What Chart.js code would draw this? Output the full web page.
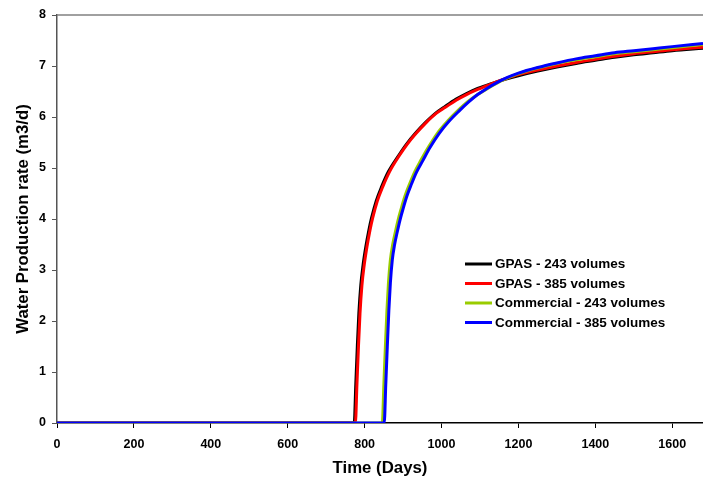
<!DOCTYPE html>
<html lang="en">
<head>
    <meta charset="UTF-8">
    <title>Water Production rate</title>
    <script src="https://cdn.jsdelivr.net/npm/chart.js"></script>
    <style>
        body { margin: 0; background: #fff; }
        #caixa { width: 703px; height: 481px; }
    </style>
</head>
<body>
    <div id="caixa"><canvas id="grafico_agua" width="703" height="481"></canvas></div>

<script>
    // series (days, m3/d)
    var nomes = ['GPAS - 243 volumes', 'GPAS - 385 volumes', 'Commercial - 243 volumes', 'Commercial - 385 volumes'];
    var cores = ['#000000', '#FF0000', '#99CC00', '#0000FF'];

    var diasGpas243 = [0, 773, 777, 781, 785, 790, 796, 803, 811, 818, 830, 844, 862, 888, 908, 932, 958, 984,
        1010, 1038, 1065, 1094, 1120, 1143, 1170, 1200, 1250, 1300, 1350, 1400, 1450, 1500, 1550, 1600, 1680];
    var vazaoGpas243 = [0, 0, 0.75, 1.5, 2.15, 2.7, 3.1, 3.45, 3.78, 4.02, 4.35, 4.63, 4.93, 5.24, 5.46, 5.68, 5.89, 6.07,
        6.21, 6.35, 6.46, 6.56, 6.63, 6.69, 6.75, 6.81, 6.90, 6.98, 7.05, 7.11, 7.17, 7.22, 7.26, 7.30, 7.35];

    var diasGpas385 = [0, 776, 780, 784, 788, 793, 799, 806, 814, 821, 833, 847, 865, 890, 910, 934, 960, 986,
        1010, 1038, 1065, 1094, 1120, 1143, 1170, 1200, 1250, 1300, 1350, 1400, 1450, 1500, 1550, 1600, 1680];
    var vazaoGpas385 = [0, 0, 0.75, 1.5, 2.15, 2.7, 3.1, 3.45, 3.78, 4.02, 4.35, 4.63, 4.93, 5.24, 5.46, 5.68, 5.89, 6.07,
        6.19, 6.33, 6.44, 6.54, 6.62, 6.69, 6.76, 6.83, 6.92, 7.00, 7.07, 7.13, 7.19, 7.24, 7.28, 7.32, 7.37];

    var diasComm243 = [0, 846, 850, 854, 858, 862, 867, 873, 880, 887, 895, 905, 915, 930, 947, 966, 990, 1017,
        1043, 1068, 1094, 1120, 1143, 1170, 1200, 1250, 1300, 1350, 1400, 1450, 1500, 1550, 1600, 1680];
    var vazaoComm243 = [0, 0, 0.75, 1.5, 2.2, 2.75, 3.2, 3.5, 3.75, 3.98, 4.2, 4.45, 4.65, 4.92, 5.16, 5.41, 5.69, 5.93,
        6.13, 6.30, 6.44, 6.56, 6.66, 6.76, 6.85, 6.96, 7.05, 7.12, 7.18, 7.24, 7.28, 7.32, 7.36, 7.42];

    var diasComm385 = [0, 851, 855, 859, 863, 867, 872, 878, 885, 892, 900, 910, 920, 935, 951, 970, 994, 1020,
        1046, 1070, 1094, 1120, 1143, 1170, 1200, 1250, 1300, 1350, 1400, 1450, 1500, 1550, 1600, 1680];
    var vazaoComm385 = [0, 0, 0.75, 1.5, 2.2, 2.75, 3.2, 3.5, 3.75, 3.98, 4.2, 4.45, 4.65, 4.92, 5.14, 5.40, 5.68, 5.92,
        6.12, 6.29, 6.44, 6.57, 6.67, 6.77, 6.86, 6.97, 7.06, 7.14, 7.20, 7.26, 7.30, 7.34, 7.38, 7.44];

    var fonte = 'Liberation Sans, Arial, sans-serif';

    function pontos(dias, vazao) {
        return dias.map(function (d, i) { return { x: d, y: vazao[i] }; });
    }

    var series = [
        pontos(diasGpas243, vazaoGpas243),
        pontos(diasGpas385, vazaoGpas385),
        pontos(diasComm243, vazaoComm243),
        pontos(diasComm385, vazaoComm385)
    ];

    // blue drawn on top, black at the bottom
    var datasets = series.map(function (dados, i) {
        return {
            label: nomes[i],
            data: dados,
            borderColor: cores[i],
            borderWidth: 3,
            pointRadius: 0,
            fill: false,
            cubicInterpolationMode: 'monotone',
            order: 3 - i
        };
    });

    // legend box inside the plot + grey top border
    var extras = {
        id: 'extras',
        afterDatasetsDraw: function (chart) {
            var ctx = chart.ctx;
            var area = chart.chartArea;
            ctx.save();
            ctx.strokeStyle = '#808080';
            ctx.lineWidth = 1.5;
            ctx.beginPath();
            ctx.moveTo(area.left, area.top);
            ctx.lineTo(area.right, area.top);
            ctx.stroke();

            ctx.font = 'bold 13.5px ' + fonte;
            ctx.textBaseline = 'middle';
            ctx.fillStyle = '#000';
            for (var i = 0; i < nomes.length; i++) {
                var y = 264 + i * 19.5;
                ctx.strokeStyle = cores[i];
                ctx.lineWidth = 3;
                ctx.beginPath();
                ctx.moveTo(465, y);
                ctx.lineTo(492, y);
                ctx.stroke();
                ctx.fillText(nomes[i], 495, y + 0.5);
            }
            ctx.restore();
        }
    };

    var ctx = document.getElementById('grafico_agua').getContext('2d');

    new Chart(ctx, {
        type: 'line',
        data: { datasets: datasets },
        options: {
            responsive: false,
            animation: false,
            devicePixelRatio: 1,
            layout: { padding: { top: 15, right: 0, left: 0, bottom: 0 } },
            plugins: {
                legend: { display: false },
                tooltip: { enabled: false }
            },
            scales: {
                x: {
                    type: 'linear',
                    min: 0,
                    max: 1680,
                    afterFit: function (scale) { scale.height = 58; },
                    ticks: {
                        stepSize: 200,
                        includeBounds: false,
                        color: '#000',
                        padding: 9,
                        maxRotation: 0,
                        callback: function (v) { return String(v); },
                        font: { family: fonte, size: 12.5, weight: 'bold' }
                    },
                    grid: { drawOnChartArea: false, color: '#000', tickLength: 5, lineWidth: 1 },
                    border: { color: '#000', width: 1.5 },
                    title: {
                        display: true,
                        text: 'Time (Days)',
                        color: '#000',
                        padding: { top: 0, bottom: 3 },
                        font: { family: fonte, size: 16.8, weight: 'bold' }
                    }
                },
                y: {
                    min: 0,
                    max: 8,
                    afterFit: function (scale) { scale.width = 57; },
                    ticks: {
                        stepSize: 1,
                        color: '#000',
                        padding: 6,
                        callback: function (v) { return String(v); },
                        font: { family: fonte, size: 12.5, weight: 'bold' }
                    },
                    grid: { drawOnChartArea: false, color: '#555', tickLength: 5, lineWidth: 1 },
                    border: { color: '#555', width: 1.5 },
                    title: {
                        display: true,
                        text: 'Water Production rate (m3/d)',
                        color: '#000',
                        padding: { top: 13, bottom: 0 },
                        font: { family: fonte, size: 16.8, weight: 'bold' }
                    }
                }
            }
        },
        plugins: [extras]
    });
</script>
</body>
</html>
